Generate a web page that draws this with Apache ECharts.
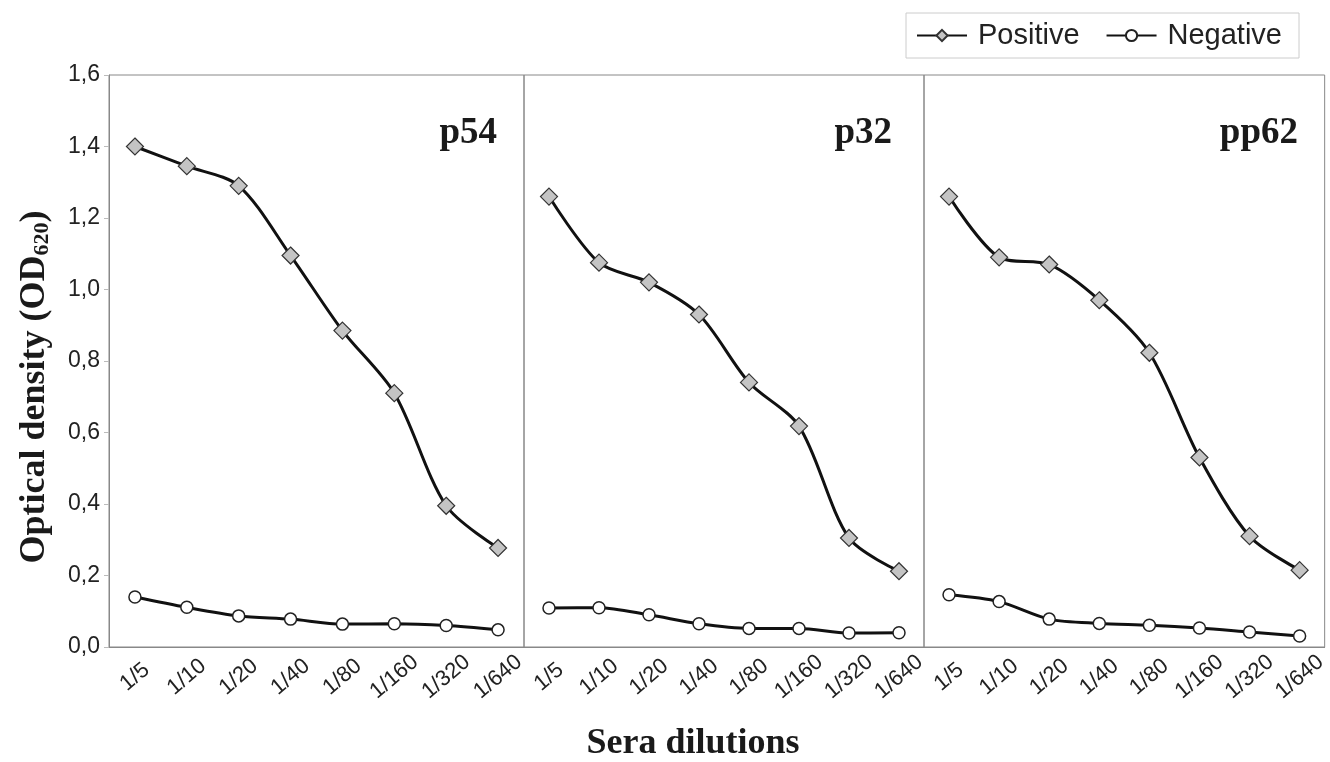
<!DOCTYPE html>
<html>
<head>
<meta charset="utf-8">
<script src="https://cdn.jsdelivr.net/npm/echarts@6/dist/echarts.min.js"></script>
<style>html,body{margin:0;padding:0;background:#fff}#c{width:1330px;height:762px}</style>
</head>
<body>
<div id="c"></div>
<script>
const categories = ['1/5','1/10','1/20','1/40','1/80','1/160','1/320','1/640'];
const panelTitles = ['p54','p32','pp62'];
const yTicks = ['0,0','0,2','0,4','0,6','0,8','1,0','1,2','1,4','1,6'];
const p54Positive = [1.40, 1.345, 1.29, 1.095, 0.885, 0.71, 0.395, 0.277];
const p54Negative = [0.14, 0.111, 0.087, 0.078, 0.064, 0.065, 0.06, 0.048];
const p32Positive = [1.26, 1.075, 1.02, 0.93, 0.74, 0.618, 0.305, 0.212];
const p32Negative = [0.109, 0.11, 0.09, 0.065, 0.052, 0.052, 0.039, 0.04];
const pp62Positive = [1.26, 1.09, 1.07, 0.97, 0.823, 0.53, 0.31, 0.215];
const pp62Negative = [0.146, 0.127, 0.078, 0.066, 0.061, 0.053, 0.042, 0.031];

const positives = [p54Positive, p32Positive, pp62Positive];
const negatives = [p54Negative, p32Negative, pp62Negative];

const grids = [
  {left: 109, top: 75, width: 415, height: 572},
  {left: 524, top: 75, width: 400, height: 572},
  {left: 924, top: 75, width: 402, height: 572}
];

const sansFont = '"Liberation Sans", Arial, sans-serif';
const serifFont = '"Liberation Serif", "Times New Roman", serif';

const xAxes = grids.map((g, i) => ({
  type: 'category', gridIndex: i, data: categories, boundaryGap: true,
  axisLine: {lineStyle: {color: '#888', width: 1}},
  axisTick: {show: false},
  axisLabel: {rotate: 40, fontSize: 22, color: '#222', fontFamily: sansFont, margin: 30, interval: 0,
    align: 'center', verticalAlign: 'middle'}
}));

const yAxes = grids.map((g, i) => ({
  type: 'value', gridIndex: i, min: 0, max: 1.6, interval: 0.2,
  axisLine: {show: i === 0, lineStyle: {color: '#888'}},
  axisTick: {show: i === 0, length: 5, lineStyle: {color: '#bbb'}},
  splitLine: {show: false},
  axisLabel: {show: i === 0, fontSize: 23, color: '#222', fontFamily: sansFont, margin: 9,
    formatter: v => yTicks[Math.round(v / 0.2)]}
}));

const series = [];
for (let i = 0; i < 3; i++) {
  series.push({
    name: 'Positive', type: 'line', xAxisIndex: i, yAxisIndex: i,
    data: positives[i], smooth: 0.3,
    symbol: 'diamond', symbolSize: 17,
    lineStyle: {color: '#111', width: 3},
    itemStyle: {color: '#c4c4c4', borderColor: '#333', borderWidth: 1.2},
    z: 3
  });
  series.push({
    name: 'Negative', type: 'line', xAxisIndex: i, yAxisIndex: i,
    data: negatives[i], smooth: 0.3,
    symbol: 'circle', symbolSize: 12,
    lineStyle: {color: '#111', width: 3},
    itemStyle: {color: '#fff', borderColor: '#222', borderWidth: 1.5},
    z: 3
  });
}

const titleRights = [1330 - 502, 1330 - 897, 1330 - 1303];
const chart = echarts.init(document.getElementById('c'), null, {renderer: 'canvas'});
chart.setOption({
  animation: false,
  backgroundColor: '#fff',
  grid: grids.map(g => Object.assign({show: true, borderColor: '#888', borderWidth: 1, containLabel: false}, g)),
  xAxis: xAxes,
  yAxis: yAxes,
  title: panelTitles.map((t, i) => ({
    text: t, right: titleRights[i], top: 110,
    textStyle: {fontSize: 37, fontWeight: 'bold', fontFamily: serifFont, color: '#1a1a1a'}
  })).concat([{
    text: 'Sera dilutions', left: 688, top: 721, textAlign: 'center',
    textStyle: {fontSize: 36, fontWeight: 'bold', fontFamily: serifFont, color: '#1a1a1a'}
  }]),
  graphic: [{
    type: 'text', x: 33, y: 387, rotation: Math.PI / 2,
    style: {
      text: '{a|Optical density (OD}{b|620}{a|)}',
      align: 'center', verticalAlign: 'middle',
      rich: {
        a: {fontSize: 36, fontWeight: 'bold', fontFamily: serifFont, fill: '#1a1a1a', lineHeight: 40, verticalAlign: 'bottom'},
        b: {fontSize: 22, fontWeight: 'bold', fontFamily: serifFont, fill: '#1a1a1a', lineHeight: 34, verticalAlign: 'bottom'}
      }
    }
  }],
  legend: {
    data: ['Positive', 'Negative'],
    right: 31, top: 13,
    itemWidth: 50, itemHeight: 14, itemGap: 26,
    padding: [8, 17, 8, 10],
    borderColor: '#ccc', borderWidth: 1,
    textStyle: {fontSize: 29, fontFamily: sansFont, color: '#222', padding: [0, 0, 0, 6]}
  },
  series: series
});
</script>
</body>
</html>
